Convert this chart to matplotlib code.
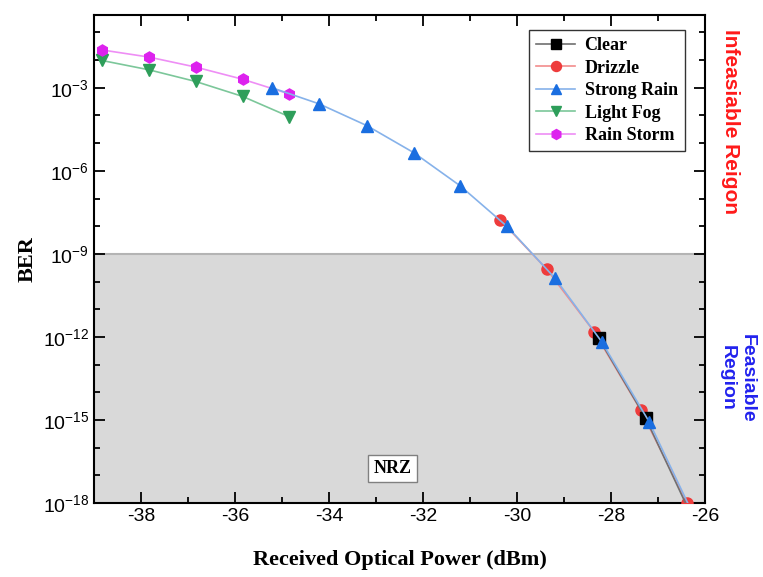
import matplotlib
matplotlib.use("Agg")
import matplotlib.pyplot as plt
import numpy as np
from matplotlib.ticker import FixedLocator, NullFormatter

# data (x in dBm, y as log10(BER))
clear_x = [-28.26, -27.26, -26.25]
clear_y = [-12.05, -14.94, -18.6]

drizzle_x = [-30.36, -29.37, -28.36, -27.37, -26.38]
drizzle_y = [-7.77, -9.55, -11.81, -14.64, -18.0]

strong_x = [-35.21, -34.21, -33.19, -32.19, -31.21, -30.21, -29.19, -28.2, -27.19, -26.2]
strong_y = [-3.0, -3.58, -4.37, -5.35, -6.54, -8.01, -9.88, -12.17, -15.06, -18.6]

fog_x = [-38.84, -37.83, -36.84, -35.84, -34.85]
fog_y = [-2.01, -2.35, -2.77, -3.31, -4.04]

storm_x = [-38.84, -37.83, -36.84, -35.84, -34.85]
storm_y = [-1.63, -1.89, -2.25, -2.69, -3.22]

threshold = 1e-9
y_major = [-18, -15, -12, -9, -6, -3]
x_major = [-38, -36, -34, -32, -30, -28, -26]

plt.rcParams['font.family'] = ['Liberation Sans', 'DejaVu Sans']
plt.rcParams['mathtext.default'] = 'regular'

fig = plt.figure(figsize=(7.63, 5.77), dpi=100)
ax = fig.add_axes([0.1232, 0.1282, 0.8008, 0.8458])

ax.axhspan(1e-18, threshold, color='#d9d9d9', zorder=0, lw=0)
ax.axhline(threshold, color='#b4b4b4', lw=1.5, zorder=0.5)

series = [
    ("Clear", clear_x, clear_y, 's', '#000000', '#707070', 4),
    ("Drizzle", drizzle_x, drizzle_y, 'o', '#ee3c3c', '#f28c8c', 3),
    ("Strong Rain", strong_x, strong_y, '^', '#1a6ee0', '#86b2ea', 5),
    ("Light Fog", fog_x, fog_y, 'v', '#2e9e5a', '#7cc79a', 3),
    ("Rain Storm", storm_x, storm_y, 'h', '#dd22ee', '#ee8ef5', 3),
]
for name, xs, ys, mk, mc, lc, z in series:
    ax.plot(xs, 10.0 ** np.array(ys), color=lc, lw=1.2, marker=mk, ms=8,
            mfc=mc, mec=mc, label=name, zorder=z)

ax.set_yscale('log')
ax.set_xlim(-39, -26)
ax.set_ylim(1e-18, 10 ** -0.37)

ax.xaxis.set_major_locator(FixedLocator(x_major))
ax.xaxis.set_minor_locator(FixedLocator(np.arange(-39, -25, 2)))
ax.yaxis.set_major_locator(FixedLocator([10.0 ** e for e in y_major]))
ax.yaxis.set_minor_locator(FixedLocator([10.0 ** e for e in range(-18, 0)]))
ax.yaxis.set_minor_formatter(NullFormatter())
ax.set_yticklabels([f'$10^{{{e}}}$' for e in y_major])
ax.set_xticklabels([str(v) for v in x_major])

ax.tick_params(which='both', direction='in', top=True, right=True, labelsize=14, width=1.3)
ax.tick_params(which='major', length=8)
ax.tick_params(which='minor', length=4.5)
for s in ax.spines.values():
    s.set_linewidth(1.5)

ax.set_xlabel('Received Optical Power (dBm)', family='Liberation Serif', weight='bold', fontsize=16, labelpad=18)
ax.set_ylabel('BER', family='Liberation Serif', weight='bold', fontsize=16, labelpad=4)

leg = ax.legend(loc='upper right', bbox_to_anchor=(0.967, 0.969), borderaxespad=0,
                prop={'family': 'Liberation Serif', 'weight': 'bold', 'size': 13},
                fancybox=False, edgecolor='#333333', framealpha=1, handlelength=2.2,
                borderpad=0.4, labelspacing=0.3, handletextpad=0.5, markerscale=0.9)
leg.get_frame().set_linewidth(1.0)

ax.text(-32.65, 10 ** -16.75, 'NRZ', family='Liberation Serif', weight='bold', fontsize=13,
        ha='center', va='center',
        bbox=dict(boxstyle='square,pad=0.3', fc='white', ec='#808080', lw=1))

fig.text(0.958, 0.79, 'Infeasiable Reigon', color='#ff1a1a', weight='bold', fontsize=15,
         rotation=-90, ha='center', va='center')
fig.text(0.966, 0.345, 'Feasiable\nRegion', color='#2222ee', weight='bold', fontsize=14,
         rotation=-90, ha='center', va='center', multialignment='center', linespacing=1.2)

fig.savefig('out.png', dpi=100)
